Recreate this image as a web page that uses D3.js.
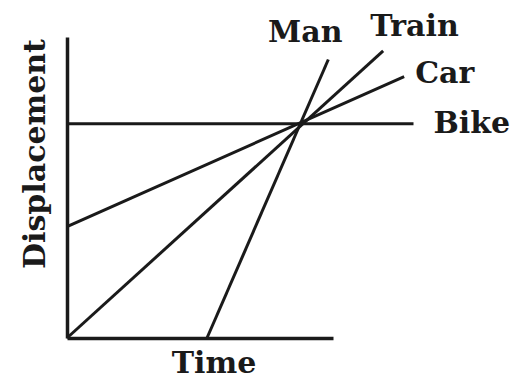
<!DOCTYPE html>
<html lang="en">
<head>
    <meta charset="UTF-8">
    <title>Displacement vs Time</title>
    <script src="https://d3js.org/d3.v7.min.js"></script>
    <style>
        body {
            margin: 0;
            background: #fff;
        }
        .label {
            font-family: "DejaVu Serif", serif;
            font-weight: bold;
            font-size: 30px;
            fill: #1a1a1a;
        }
    </style>
</head>
<body>
    <div id="chart"></div>

    <script>
        // Datos: cada recta es [inicio, fin] en unidades de tiempo / desplazamiento
        var names = ["Man", "Train", "Car", "Bike"];
        var startPoints = [[6, 0], [0, 0], [0, 5.2], [0, 10]];
        var endPoints = [[11.2, 13], [13.55, 13.4], [14.45, 12.2], [14.85, 10]];
        var axisTitles = ["Time", "Displacement"];

        var width = 523;
        var height = 380;
        var margin = { top: 37, right: 190, bottom: 42, left: 67 };

        var svg = d3.select("#chart")
            .append("svg")
            .attr("width", width)
            .attr("height", height);

        // Escalas
        var x = d3.scaleLinear()
            .domain([0, 11.4])
            .range([margin.left, width - margin.right]);

        var y = d3.scaleLinear()
            .domain([0, 14.05])
            .range([height - margin.bottom, margin.top]);

        // Ejes (sin marcas)
        svg.append("g")
            .attr("transform", `translate(0,${y(0)})`)
            .call(d3.axisBottom(x).ticks(0).tickSizeOuter(0))
            .select(".domain")
            .attr("stroke", "#1a1a1a")
            .attr("stroke-width", 3.5);

        svg.append("g")
            .attr("transform", `translate(${x(0)},0)`)
            .call(d3.axisLeft(y).ticks(0).tickSizeOuter(0))
            .select(".domain")
            .attr("stroke", "#1a1a1a")
            .attr("stroke-width", 3.5);

        // Rectas
        var line = d3.line()
            .x(function(d) { return x(d[0]); })
            .y(function(d) { return y(d[1]); });

        var series = names.map(function(n, i) {
            return { name: n, points: [startPoints[i], endPoints[i]] };
        });

        svg.selectAll(".serie")
            .data(series)
            .enter().append("path")
            .attr("class", "serie")
            .attr("fill", "none")
            .attr("stroke", "#1a1a1a")
            .attr("stroke-width", 3)
            .attr("d", function(d) { return line(d.points); });

        // Etiquetas de las rectas
        var labelOffsets = {
            Man: [-23, -17, "middle"],
            Train: [-13, -15, "start"],
            Car: [11, 6, "start"],
            Bike: [20, 9, "start"]
        };

        svg.selectAll(".serie-label")
            .data(series)
            .enter().append("text")
            .attr("class", "label serie-label")
            .attr("x", function(d) { return x(d.points[1][0]) + labelOffsets[d.name][0]; })
            .attr("y", function(d) { return y(d.points[1][1]) + labelOffsets[d.name][1]; })
            .attr("text-anchor", function(d) { return labelOffsets[d.name][2]; })
            .text(function(d) { return d.name; });

        // Títulos de los ejes
        svg.append("text")
            .attr("class", "label")
            .attr("x", 214)
            .attr("y", 373)
            .attr("text-anchor", "middle")
            .text(axisTitles[0]);

        svg.append("text")
            .attr("class", "label")
            .attr("transform", "translate(45,154) rotate(-90)")
            .attr("text-anchor", "middle")
            .text(axisTitles[1]);
    </script>
</body>
</html>
